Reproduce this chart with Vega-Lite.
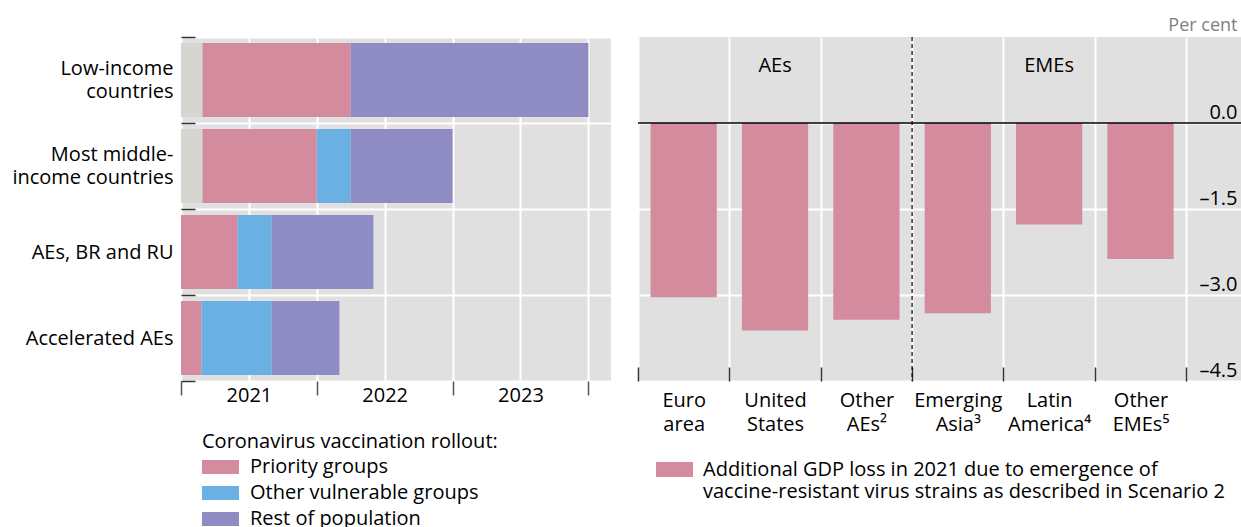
{
  "$schema": "https://vega.github.io/schema/vega-lite/v6.json",
  "background": "white",
  "padding": {"left": 11, "top": 16, "right": 0, "bottom": 0},
  "autosize": {"type": "pad"},
  "spacing": 27,
  "bounds": "flush",
  "config": {
    "font": "Open Sans",
    "view": {"fill": "#e0e0e0", "stroke": null},
    "axis": {"labelFont": "Open Sans", "labelFontSize": 20, "labelColor": "#000", "gridColor": "#ffffff", "gridWidth": 2, "gridOpacity": 1, "domain": false, "title": null},
    "legend": {"labelFont": "Open Sans", "titleFont": "Open Sans", "labelColor": "#000", "titleColor": "#000", "padding": 0}
  },
  "resolve": {"legend": {"color": "independent"}, "scale": {"color": "independent"}},
  "hconcat": [
    {
      "width": 430,
      "height": 344,
      "data": {"values": [
        {"group": "Low-income countries", "phase": "Not started", "start": 0, "end": 1.9},
        {"group": "Low-income countries", "phase": "Priority groups", "start": 1.9, "end": 15},
        {"group": "Low-income countries", "phase": "Rest of population", "start": 15, "end": 36},
        {"group": "Most middle-income countries", "phase": "Not started", "start": 0, "end": 1.9},
        {"group": "Most middle-income countries", "phase": "Priority groups", "start": 1.9, "end": 12},
        {"group": "Most middle-income countries", "phase": "Other vulnerable groups", "start": 12, "end": 15},
        {"group": "Most middle-income countries", "phase": "Rest of population", "start": 15, "end": 24},
        {"group": "AEs, BR and RU", "phase": "Priority groups", "start": 0, "end": 5},
        {"group": "AEs, BR and RU", "phase": "Other vulnerable groups", "start": 5, "end": 8},
        {"group": "AEs, BR and RU", "phase": "Rest of population", "start": 8, "end": 17},
        {"group": "Accelerated AEs", "phase": "Priority groups", "start": 0, "end": 1.8},
        {"group": "Accelerated AEs", "phase": "Other vulnerable groups", "start": 1.8, "end": 8},
        {"group": "Accelerated AEs", "phase": "Rest of population", "start": 8, "end": 14}
      ]},
      "mark": {"type": "bar", "height": {"band": 0.86}},
      "encoding": {
        "y": {
          "field": "group", "type": "nominal",
          "sort": ["Low-income countries", "Most middle-income countries", "AEs, BR and RU", "Accelerated AEs"],
          "scale": {"paddingInner": 0, "paddingOuter": 0},
          "axis": {
            "tickBand": "extent", "ticks": true, "tickSize": -14, "tickColor": "#333", "tickWidth": 1.5,
            "labelPadding": 22, "labelLineHeight": 23, "labelAlign": "right", "labelBaseline": "middle",
            "labelOffset": {"condition": {"test": "datum.label == 'Low-income countries' || datum.label == 'Most middle-income countries'", "value": -11.5}, "value": 0},
            "labelLimit": 300, "grid": true,
            "labelExpr": "datum.label == 'Low-income countries' ? ['Low-income', 'countries'] : datum.label == 'Most middle-income countries' ? ['Most middle-', 'income countries'] : datum.label"
          }
        },
        "x": {
          "field": "start", "type": "quantitative",
          "scale": {"domain": [0, 38], "nice": false, "zero": false},
          "axis": {
            "values": [0, 6, 12, 18, 24, 30, 36],
            "labelExpr": "datum.value == 6 ? '2021' : datum.value == 18 ? '2022' : datum.value == 30 ? '2023' : ''",
            "tickOpacity": {"condition": {"test": "datum.value % 12 === 0", "value": 1}, "value": 0},
            "tickSize": 14, "tickColor": "#555", "tickWidth": 1.5,
            "labelPadding": -10, "labelBaseline": "top", "labelFlush": false, "labelOverlap": false,
            "grid": true
          }
        },
        "x2": {"field": "end"},
        "color": {
          "field": "phase", "type": "nominal",
          "scale": {
            "domain": ["Priority groups", "Other vulnerable groups", "Rest of population", "Not started"],
            "range": ["#d48b9e", "#6ab0e2", "#8f8bc3", "#d6d6d1"]
          },
          "legend": {
            "values": ["Priority groups", "Other vulnerable groups", "Rest of population"],
            "orient": "none", "legendX": 21, "legendY": 395,
            "title": "Coronavirus vaccination rollout:", "titleFontSize": 20, "titleFontWeight": "normal", "titlePadding": 2, "titleLimit": 500,
            "symbolType": "M-1,-0.38H1V0.38H-1Z", "symbolSize": 1369, "symbolStrokeWidth": 0,
            "labelFontSize": 20, "labelOffset": 11, "rowPadding": 0, "clipHeight": 26, "labelLimit": 400
          }
        }
      }
    },
    {
      "width": 603,
      "height": 344,
      "layer": [
        {
          "data": {"values": [
            {"region": "Euro area", "value": -3.04},
            {"region": "United States", "value": -3.62},
            {"region": "Other AEs", "value": -3.43},
            {"region": "Emerging Asia", "value": -3.32},
            {"region": "Latin America", "value": -1.77},
            {"region": "Other EMEs", "value": -2.37}
          ]},
          "mark": {"type": "bar", "width": {"band": 0.725}},
          "encoding": {
            "x": {
              "field": "region", "type": "nominal",
              "scale": {"domain": ["Euro area", "United States", "Other AEs", "Emerging Asia", "Latin America", "Other EMEs"], "paddingInner": 0, "paddingOuter": 0.3, "align": 0},
              "axis": {
                "tickBand": "extent", "tickSize": -14, "tickColor": "#333", "tickWidth": 1.5, "grid": true,
                "labelAngle": 0, "labelBaseline": "top", "labelPadding": 23, "labelLineHeight": 24, "labelAlign": "center",
                "labelExpr": "datum.label == 'Euro area' ? ['Euro', 'area'] : datum.label == 'United States' ? ['United', 'States'] : datum.label == 'Other AEs' ? ['Other', 'AEs²'] : datum.label == 'Emerging Asia' ? ['Emerging', 'Asia³'] : datum.label == 'Latin America' ? ['Latin', 'America⁴'] : datum.label == 'Other EMEs' ? ['Other', 'EMEs⁵'] : ''"
              }
            },
            "y": {
              "field": "value", "type": "quantitative",
              "scale": {"domain": [-4.5, 1.5], "nice": false, "zero": false},
              "axis": {
                "orient": "right", "values": [0, -1.5, -3, -4.5], "grid": true, "ticks": false, "tickSize": 0,
                "labelAlign": "right", "labelPadding": -4, "labelBaseline": "alphabetic", "labelOffset": -5,
                "labelExpr": "datum.value == 0 ? '0.0' : '–' + format(abs(datum.value), '.1f')",
                "title": "Per cent", "titleAngle": 0, "titleAlign": "right", "titleBaseline": "alphabetic",
                "titleX": -4, "titleY": -7, "titleFontSize": 18, "titleColor": "#808080", "titleFontWeight": "normal"
              }
            },
            "color": {
              "datum": "Additional GDP loss in 2021 due to emergence of vaccine-resistant virus strains as described in Scenario 2",
              "scale": {"range": ["#d48b9e"]},
              "legend": {
                "orient": "none", "legendX": 18, "legendY": 414, "title": null,
                "symbolType": "M-1,-0.4H1V0.4H-1Z", "symbolSize": 1369, "symbolStrokeWidth": 0,
                "labelFontSize": 20, "labelOffset": 10, "labelLimit": 700, "labelLineHeight": 23, "labelBaseline": "middle",
                "labelExpr": "['Additional GDP loss in 2021 due to emergence of', 'vaccine-resistant virus strains as described in Scenario 2']"
              }
            }
          }
        },
        {
          "data": {"values": [{"region": "Emerging Asia"}]},
          "mark": {"type": "rule", "color": "#000", "strokeDash": [4, 3], "strokeWidth": 1.2},
          "encoding": {"x": {"field": "region", "type": "nominal", "bandPosition": 0}}
        },
        {
          "data": {"values": [{"zero": 0}]},
          "mark": {"type": "rule", "color": "#000", "strokeWidth": 1.5},
          "encoding": {"y": {"field": "zero", "type": "quantitative"}}
        },
        {
          "data": {"values": [{"region": "United States", "pos": 1.0, "label": "AEs"}, {"region": "Latin America", "pos": 1.0, "label": "EMEs"}]},
          "mark": {"type": "text", "fontSize": 20, "color": "#000", "baseline": "middle", "align": "center"},
          "encoding": {
            "x": {"field": "region", "type": "nominal"},
            "y": {"field": "pos", "type": "quantitative"},
            "text": {"field": "label"}
          }
        }
      ]
    }
  ]
}
